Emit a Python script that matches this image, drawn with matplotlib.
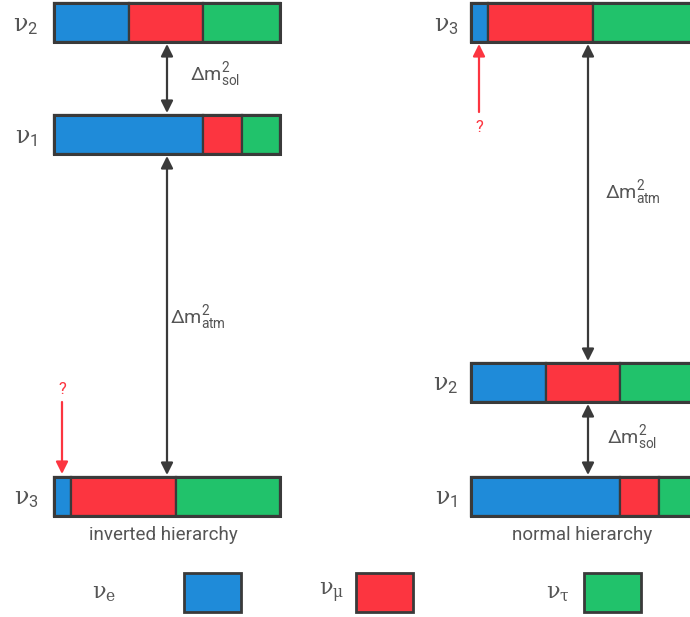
import numpy as np
import matplotlib.pyplot as plt

plt.rcParams["font.family"] = ["Roboto", "DejaVu Sans"]
plt.rcParams["mathtext.fontset"] = "custom"
plt.rcParams["mathtext.rm"] = "Roboto"
plt.rcParams["mathtext.sf"] = "DejaVu Serif"
plt.rcParams["mathtext.it"] = "DejaVu Serif:italic"

# flavour content of each mass state (e, mu, tau)
flavours = ["e", "mu", "tau"]
colors = ["#1f8bd9", "#fc3540", "#21c26b"]
state_fracs = {
    "1": [0.66, 0.17, 0.17],
    "2": [0.33, 0.33, 0.34],
    "3": [0.075, 0.465, 0.46],
}

# bar row (pixel y-centre) for each state in the two hierarchies
inverted_rows = {"2": 22, "1": 134, "3": 496}
normal_rows = {"3": 22, "2": 382, "1": 496}
inverted_x0 = 54
normal_x0 = 471
bar_w = 226
bar_h = 39

fig = plt.figure(figsize=(6.9, 6.17), dpi=100)
ax = fig.add_axes([0, 0, 1, 1])
ax.set_xlim(0, 690)
ax.set_ylim(617, 0)
ax.axis("off")

txt = "#555555"
edge = "#3a3a3a"


def draw_bar(x0, yc, fracs):
    left = x0 + bar_w * np.concatenate([[0], np.cumsum(fracs)[:-1]])
    ax.barh(yc, np.array(fracs) * bar_w, left=left, height=bar_h,
            color=colors, edgecolor=edge, linewidth=1.6)
    ax.barh(yc, bar_w, left=x0, height=bar_h, fill=False,
            edgecolor=edge, linewidth=2.2)


def arrow(x, y0, y1, color=edge, both=True):
    style = "<|-|>" if both else "-|>"
    ax.annotate("", xy=(x, y1), xytext=(x, y0),
                arrowprops=dict(arrowstyle=style, color=color, lw=1.6,
                                mutation_scale=18, shrinkA=0, shrinkB=0))


def nu(sub):
    return r"$\mathsf{\nu}_{%s}$" % sub


for rows, x0, lx in [(inverted_rows, inverted_x0, 26), (normal_rows, normal_x0, 446)]:
    for s, yc in rows.items():
        draw_bar(x0, yc, state_fracs[s])
        ax.text(lx, yc + 3, nu(r"\mathrm{%s}" % s), fontsize=17, color=txt,
                ha="center", va="center")

dsol = r"$\Delta\mathrm{m}^2_{\mathrm{sol}}$"
datm = r"$\Delta\mathrm{m}^2_{\mathrm{atm}}$"

# inverted hierarchy
arrow(167, 44, 113)
ax.text(190, 75, dsol, fontsize=14, color=txt, va="center")
arrow(167, 156, 475)
ax.text(170, 318, datm, fontsize=14, color=txt, va="center")
arrow(62, 402, 474, color="#fc3540", both=False)
ax.text(62, 390, "?", fontsize=12, color="#fc3540", ha="center", va="center")
ax.text(163, 535, "inverted hierarchy", fontsize=13.5, color=txt, ha="center", va="center")

# normal hierarchy
arrow(588, 44, 361)
ax.text(605, 193, datm, fontsize=14, color=txt, va="center")
arrow(588, 404, 475)
ax.text(607, 438, dsol, fontsize=14, color=txt, va="center")
arrow(479, 112, 44, color="#fc3540", both=False)
ax.text(479, 127, "?", fontsize=12, color="#fc3540", ha="center", va="center")
ax.text(582, 535, "normal hierarchy", fontsize=13.5, color=txt, ha="center", va="center")

# legend
legend_x = [184, 356, 584]
legend_labels = [nu(r"\mathsf{e}"), nu(r"\mathsf{\mu}"), nu(r"\mathsf{\tau}")]
label_right = [116, 344, 570]
for x, lr, lab, c in zip(legend_x, label_right, legend_labels, colors):
    ax.barh(592, 57, left=x, height=39, color=c, edgecolor=edge, linewidth=2)
    ax.text(lr, 593, lab, fontsize=16, color=txt, ha="right", va="center")

fig.savefig("out.png", dpi=100, facecolor="white")
